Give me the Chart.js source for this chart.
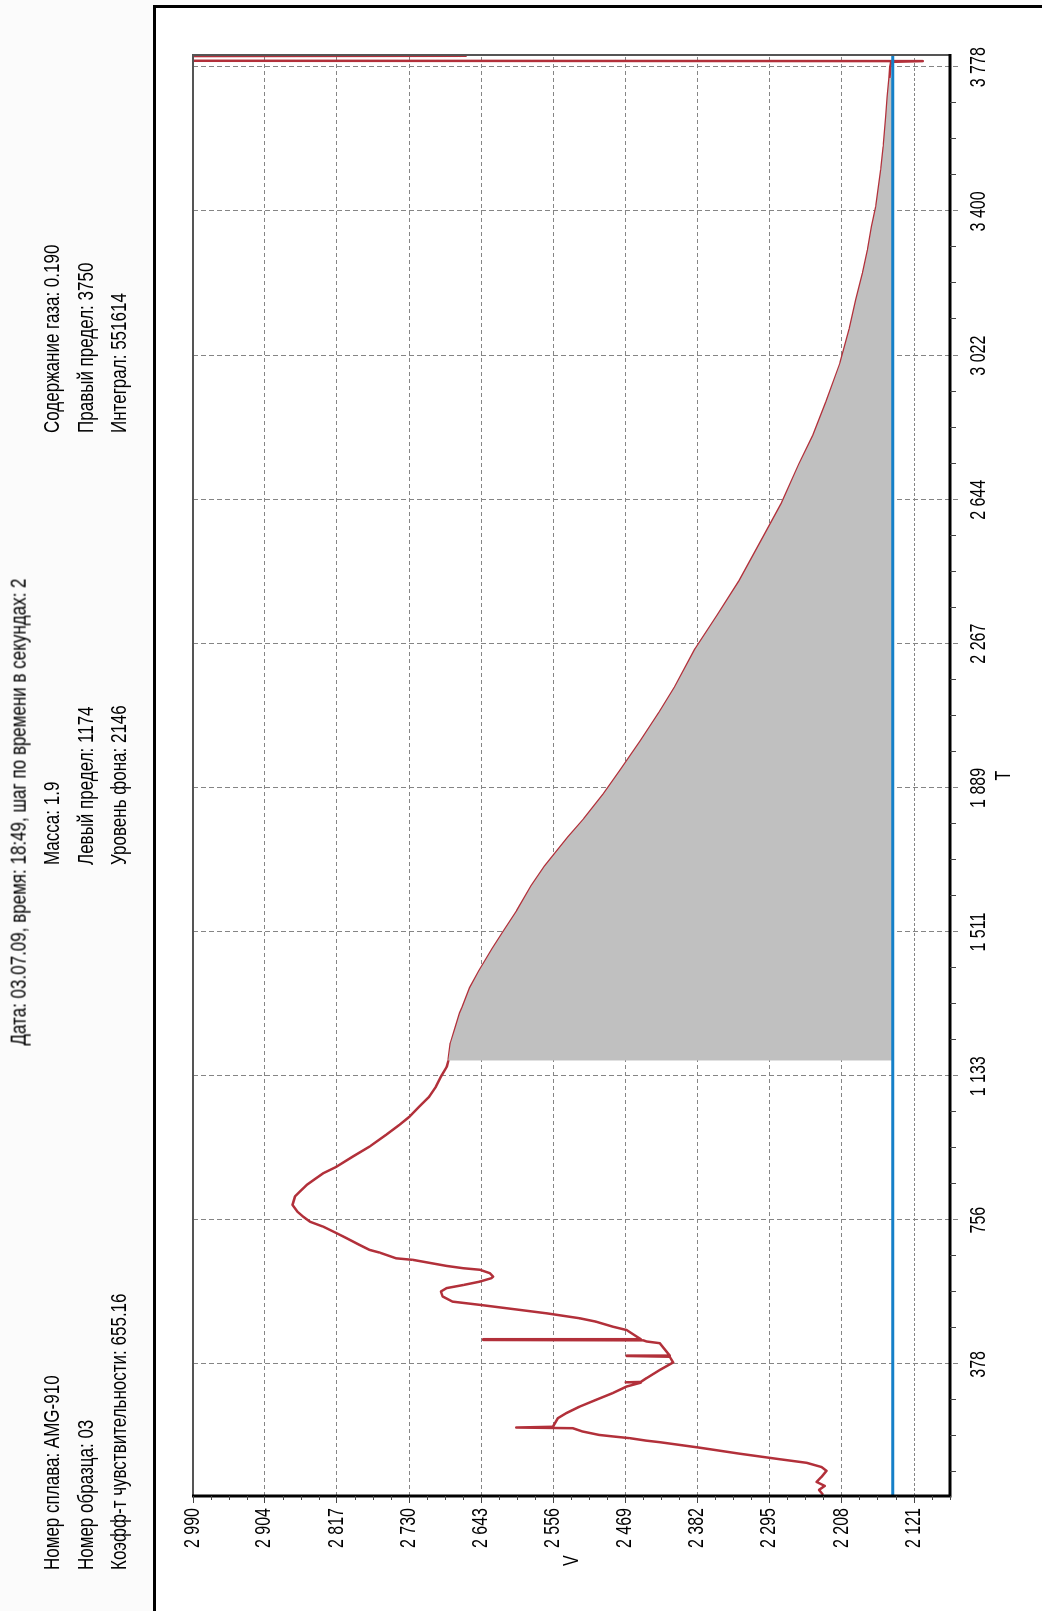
<!DOCTYPE html>
<html>
<head>
<meta charset="utf-8">
<title>Термодесорбция AMG-910</title>
<script src="https://cdn.jsdelivr.net/npm/chart.js@4.4.1/dist/chart.umd.min.js"></script>
<style>
  html, body { margin: 0; padding: 0; width: 1042px; height: 1611px; overflow: hidden; background: #fbfbfb; }
  /* the report sheet is laid out landscape and turned a quarter turn counter-clockwise */
  #sheet { position: absolute; left: 0; top: 0; width: 1611px; height: 1042px;
           transform-origin: 0 0; transform: translate(0, 1611px) rotate(-90deg);
           font-family: "Liberation Sans", Arial, sans-serif; color: #000; }
  #frame { position: absolute; left: 0; top: 153px; width: 1606px; height: 889px; box-sizing: border-box;
           border-top: 3px solid #000; border-right: 3px solid #000; background: #fff; }
  #plot { position: absolute; left: 0; top: 0; }
  .t { position: absolute; white-space: nowrap; font-size: 17px; line-height: 1;
       transform-origin: 0 50%; transform: translateY(-50%) scaleY(1.3); }
  .c { transform-origin: 50% 50%; transform: translate(-50%, -50%) scaleY(1.3); }
</style>
</head>
<body>
<div id="sheet">
  <div id="frame"></div>
  <canvas id="plot" width="1611" height="1042"></canvas>
  <div class="t c" id="title" style="left:799px; top:19px;"></div>
  <div class="t" id="alloy" style="left:41px; top:52px;"></div>
  <div class="t" id="sample" style="left:41px; top:86px;"></div>
  <div class="t" id="coef" style="left:41px; top:119px;"></div>
  <div class="t" id="mass" style="left:746px; top:52px;"></div>
  <div class="t" id="left" style="left:746px; top:86px;"></div>
  <div class="t" id="bg" style="left:746px; top:119px;"></div>
  <div class="t" id="gas" style="left:1178px; top:52px;"></div>
  <div class="t" id="right" style="left:1178px; top:86px;"></div>
  <div class="t" id="integral" style="left:1178px; top:119px;"></div>
</div>
<script>
// Measurement header
const alloyName = 'AMG-910';
const sampleNo = '03';
const sensitivity = '655.16';
const massValue = '1.9';
const gasContent = '0.190';
const integralValue = 551614;
const leftLimit = 1174;    // start of the integrated region, T
const rightLimit = 3750;   // end of the integrated region, T
const backgroundLevel = 2146; // baseline, V

// Recorded signal: time T and signal V
const timeT = [
  36, 49, 59.5, 70, 83, 99, 109, 120, 129, 144,
  160, 174, 178, 184.5, 189, 193, 202, 210.7, 212.5, 214.5,
  237, 250, 267, 285, 302.5, 320, 330, 331, 332, 342,
  363.5, 383, 398, 400, 401, 433.5, 438, 441, 442, 443.5,
  444.5, 451, 468, 477, 490, 499, 512, 523, 534, 542.5,
  556, 569, 578, 586, 595, 604, 608, 617, 626, 630,
  636, 652, 656, 671, 678, 691, 709, 722, 739, 752,
  765, 778, 796, 818, 831, 848, 862, 879, 896, 923,
  949, 980, 1006, 1027, 1054, 1080, 1106, 1132, 1158, 1174,
  1220, 1255, 1298, 1313, 1364, 1408, 1466, 1510, 1567, 1631,
  1682, 1758, 1808, 1872, 1936, 2012, 2088, 2152, 2253, 2342,
  2431, 2546, 2634, 2736, 2812, 2901, 3003, 3092, 3168, 3238,
  3299, 3360, 3412, 3509, 3570, 3648, 3701, 3750, 3779, 3792,
  3794, 3795, 3807, 3808, 3840
];
const signalV = [
  2230, 2235, 2228, 2238, 2232, 2226, 2232, 2250, 2281, 2331,
  2380, 2427, 2443, 2463, 2483, 2500, 2520, 2532, 2600, 2556,
  2550, 2540, 2524, 2504, 2484, 2467, 2450, 2468, 2450, 2443,
  2427, 2411, 2415, 2467, 2415, 2427, 2443, 2447, 2640, 2640,
  2450, 2455, 2467, 2484, 2504, 2524, 2564, 2604, 2644, 2677,
  2689, 2691, 2684, 2664, 2644, 2630, 2628, 2632, 2644, 2664,
  2684, 2725, 2745, 2765, 2777, 2789, 2805, 2817, 2833, 2849,
  2857, 2864, 2870, 2867, 2861, 2853, 2844, 2833, 2817, 2797,
  2777, 2757, 2741, 2729, 2717, 2705, 2697, 2691, 2684, 2682,
  2679, 2674, 2668, 2665, 2656, 2645, 2629, 2616, 2599, 2582,
  2566, 2538, 2518, 2495, 2474, 2450, 2427, 2409, 2384, 2357,
  2331, 2302, 2280, 2259, 2242, 2226, 2209, 2198, 2190, 2182,
  2176, 2171, 2166, 2160, 2157, 2154, 2152, 2150, 2149, 2148,
  2110, 3100, 3100, 2661, 2661
];

// Axis ticks and labels
const tTickLabels = ['378', '756', '1 133', '1 511', '1 889', '2 267', '2 644', '3 022', '3 400', '3 778'];
const vTickLabels = ['2 990', '2 904', '2 817', '2 730', '2 643', '2 556', '2 469', '2 382', '2 295', '2 208', '2 121'];
const tRange = [33, 3810];
const vRange = [2077, 2990];

const num = s => Number(s.replace(/\s/g, ''));
const tTicks = tTickLabels.map(num);
const vTicks = vTickLabels.map(num);

// header text
const setText = (id, s) => { document.getElementById(id).textContent = s; };
setText('title', 'Дата: 03.07.09, время: 18:49, шаг по времени в секундах: 2');
setText('alloy', 'Номер сплава: ' + alloyName);
setText('sample', 'Номер образца: ' + sampleNo);
setText('coef', 'Коэфф-т чувствительности: ' + sensitivity);
setText('mass', 'Масса: ' + massValue);
setText('left', 'Левый предел: ' + leftLimit);
setText('bg', 'Уровень фона: ' + backgroundLevel);
setText('gas', 'Содержание газа: ' + gasContent);
setText('right', 'Правый предел: ' + rightLimit);
setText('integral', 'Интеграл: ' + integralValue);

const curve = timeT.map((t, i) => ({ x: t, y: signalV[i] }));
const region = curve.filter(p => p.x >= leftLimit && p.x <= rightLimit);
const baseline = [{ x: tRange[0], y: backgroundLevel }, { x: tRange[1], y: backgroundLevel }];

const FONT = '"Liberation Sans", Arial, sans-serif';
const STRETCH = 1.4;

function minorValues(majors, lo, hi) {
  const step = (majors[majors.length - 1] - majors[0]) / (majors.length - 1);
  const q = step / 4, out = [];
  const k0 = Math.ceil((lo - majors[0]) / q), k1 = Math.floor((hi - majors[0]) / q);
  for (let k = k0; k <= k1; k++) if (((k % 4) + 4) % 4 !== 0) out.push(majors[0] + k * q);
  return out;
}

const gridPlugin = {
  id: 'dashedGrid',
  beforeDatasetsDraw(chart) {
    const { ctx, chartArea: a, scales: { x, y } } = chart;
    ctx.save();
    ctx.strokeStyle = '#858585';
    ctx.lineWidth = 1;
    ctx.setLineDash([5, 3]);
    tTicks.forEach(t => {
      const px = Math.round(x.getPixelForValue(t)) + 0.5;
      ctx.beginPath(); ctx.moveTo(px, a.top); ctx.lineTo(px, a.bottom + 10); ctx.stroke();
    });
    vTicks.forEach((v, i) => {
      ctx.setLineDash(i === vTicks.length - 1 ? [3, 2] : [4, 3]);
      const py = Math.round(y.getPixelForValue(v)) + 0.5;
      ctx.beginPath(); ctx.moveTo(a.left, py); ctx.lineTo(a.right, py); ctx.stroke();
    });
    ctx.restore();
  },
  afterDatasetsDraw(chart) {
    const { ctx, chartArea: a, scales: { x, y } } = chart;
    ctx.save();
    // plot frame
    ctx.strokeStyle = '#555';
    ctx.lineWidth = 2;
    ctx.beginPath(); ctx.moveTo(a.left, a.top); ctx.lineTo(a.right, a.top); ctx.lineTo(a.right, a.bottom); ctx.stroke();
    ctx.strokeStyle = '#000';
    ctx.lineWidth = 3;
    ctx.beginPath(); ctx.moveTo(a.left, a.top - 1); ctx.lineTo(a.left, a.bottom); ctx.lineTo(a.right + 1, a.bottom); ctx.stroke();
    // tick marks
    ctx.lineWidth = 1;
    ctx.strokeStyle = '#444';
    minorValues(tTicks, tRange[0], tRange[1]).forEach(t => {
      const px = Math.round(x.getPixelForValue(t)) + 0.5;
      ctx.beginPath(); ctx.moveTo(px, a.bottom); ctx.lineTo(px, a.bottom + 6); ctx.stroke();
    });
    vTicks.forEach(v => {
      const py = Math.round(y.getPixelForValue(v)) + 0.5;
      ctx.beginPath(); ctx.moveTo(a.left - 7, py); ctx.lineTo(a.left, py); ctx.stroke();
    });
    minorValues(vTicks.slice().reverse(), vRange[0], vRange[1]).forEach(v => {
      const py = Math.round(y.getPixelForValue(v)) + 0.5;
      ctx.beginPath(); ctx.moveTo(a.left - 4, py); ctx.lineTo(a.left, py); ctx.stroke();
    });
    ctx.restore();
  },
  afterDraw(chart) {
    const { ctx, chartArea: a, scales: { x, y } } = chart;
    const put = (text, px, py, align, base, size) => {
      ctx.save();
      ctx.translate(px, py);
      ctx.scale(1, STRETCH);
      ctx.font = size + 'px ' + FONT;
      ctx.fillStyle = '#000';
      ctx.textAlign = align;
      ctx.textBaseline = base;
      ctx.fillText(text, 0, 0);
      ctx.restore();
    };
    tTicks.forEach((t, i) => put(tTickLabels[i], x.getPixelForValue(t), a.bottom + 35, 'center', 'alphabetic', 16));
    vTicks.forEach((v, i) => put(vTickLabels[i], a.left - 12, y.getPixelForValue(v), 'right', 'middle', 16));
    put('T', (a.left + a.right) / 2, a.bottom + 60, 'center', 'alphabetic', 16);
    put('V', a.left - 70, (a.top + a.bottom) / 2, 'left', 'middle', 16);
  }
};

new Chart(document.getElementById('plot'), {
  type: 'line',
  data: {
    datasets: [
      { label: 'Уровень фона', data: baseline, borderColor: '#1580c8', borderWidth: 3,
        pointRadius: 0, fill: false, order: 0, clip: 0 },
      { label: 'Интеграл', data: region, borderWidth: 0, borderColor: 'rgba(0,0,0,0)',
        backgroundColor: '#c0c0c0', pointRadius: 0, fill: { value: backgroundLevel }, order: 1, clip: 0 },
      { label: 'V', data: curve, borderColor: '#b2303a', borderWidth: 2.5,
        pointRadius: 0, fill: false, order: 2, clip: 0 }
    ]
  },
  options: {
    responsive: false,
    animation: false,
    events: [],
    layout: { padding: { left: 115, right: 55, top: 193, bottom: 92 } },
    elements: { line: { tension: 0, borderJoinStyle: 'round' } },
    plugins: { legend: { display: false }, tooltip: { enabled: false }, title: { display: false } },
    scales: {
      x: { type: 'linear', display: false, min: tRange[0], max: tRange[1] },
      y: { type: 'linear', display: false, min: vRange[0], max: vRange[1] }
    }
  },
  plugins: [gridPlugin]
});
</script>
</body>
</html>
